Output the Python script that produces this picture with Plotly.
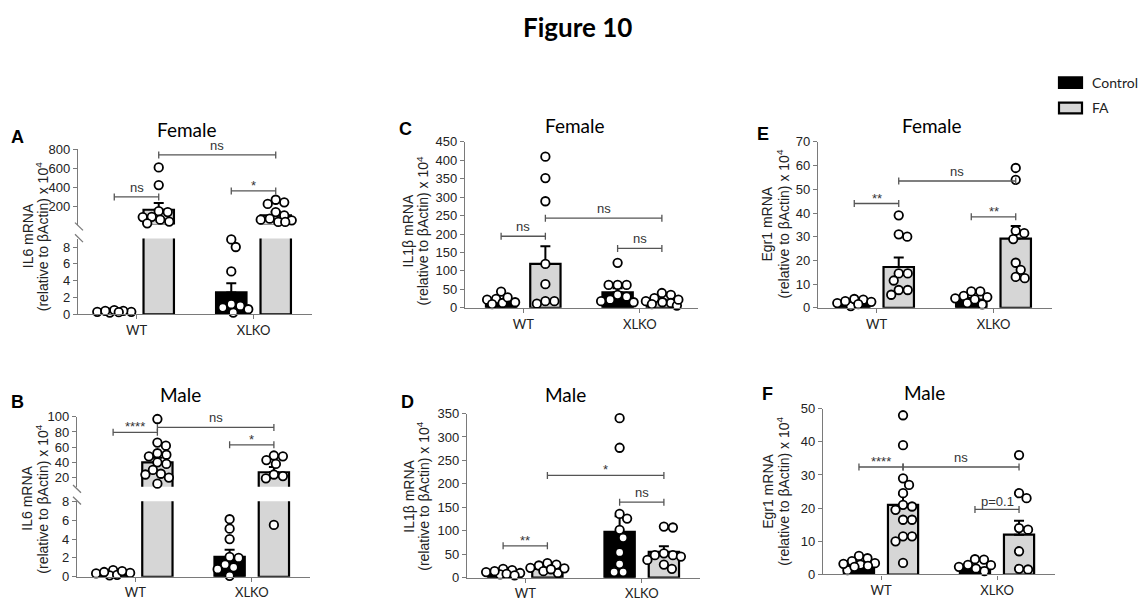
import plotly.graph_objects as go

W, H = 1145, 614

# ---------------- data ----------------
GROUPS = ["WT", "XLKO"]
CONDITIONS = ["Control", "FA"]

# A: IL6, Female
A_control_mean = [0.3, 2.6]
A_control_sem = [0.05, 1.1]
A_fa_mean = [165, 105]
A_fa_sem = [70, 40]
A_control_wt = [0.3, 0.4, 0.2, 0.5, 0.3, 0.4, 0.25]
A_fa_wt = [610, 425, 150, 140, 90, 88, 40, 22, 60]
A_control_xlko = [8.0, 8.9, 5.1, 1.0, 0.8, 0.2, 0.6, 1.2]
A_fa_xlko = [243, 270, 226, 140, 105, 71, 54, 37, 37, 60]

# B: IL6, Male
B_control_mean = [0.3, 2.1]
B_control_sem = [0.08, 0.75]
B_fa_mean = [40, 27]
B_fa_sem = [6, 7]
B_control_wt = [0.7, 0.35, 0.15, 0.5, 0.4, 0.2, 0.6]
B_fa_wt = [97, 66, 62, 52, 50, 48, 40, 38, 30, 25, 24, 20, 12]
B_control_xlko = [6.1, 5.1, 4.0, 2.1, 2.0, 1.0, 1.3, 0.1, 0.8]
B_fa_xlko = [5.5, 48, 49, 38, 43, 22, 19, 24]

# C: IL1b, Female
C_control_mean = [20, 42]
C_control_sem = [4, 11]
C_fa_mean = [119, 18]
C_fa_sem = [48, 4]
C_control_wt = [24, 13, 44, 22, 15, 28, 10]
C_fa_wt = [410, 352, 289, 119, 64, 18, 18, 11]
C_control_xlko = [122, 62, 62, 62, 35, 18, 15, 22, 30]
C_fa_xlko = [35, 40, 26, 13, 6, 18, 22, 15, 10]

# D: IL1b, Male
D_control_mean = [10, 98]
D_control_sem = [2, 33]
D_fa_mean = [19, 55]
D_fa_sem = [3, 12]
D_control_wt = [19, 12, 16, 7, 10, 8, 14, 5]
D_fa_wt = [31, 28, 26, 21, 10, 14, 20, 18]
D_control_xlko = [340, 277, 136, 126, 102, 85, 54, 29, 12, 12]
D_fa_xlko = [107, 109, 48, 52, 48, 38, 28, 19, 45]

# E: Egr1, Female
E_control_mean = [2.1, 3.4]
E_control_sem = [0.4, 0.7]
E_fa_mean = [17.2, 29.2]
E_fa_sem = [4, 5.3]
E_control_wt = [3.4, 0.7, 3.7, 2.0, 2.5, 1.5, 2.8]
E_fa_wt = [39, 30, 31, 14.5, 14.5, 11.5, 7.5, 7.5, 5.5]
E_control_xlko = [5, 6.9, 6.9, 4.5, 2, 1.4, 3.5, 4]
E_fa_xlko = [59, 54, 31.5, 32.5, 29, 19, 16, 12.5, 13]

# F: Egr1, Male
F_control_mean = [2.9, 2.0]
F_control_sem = [0.5, 0.5]
F_fa_mean = [21, 12]
F_fa_sem = [3.2, 4.2]
F_control_wt = [4.9, 5.6, 3.4, 3.0, 1.3, 2.6, 4.0, 2.3, 3.2]
F_fa_wt = [48, 39, 29, 27, 24.5, 20.5, 21, 19.5, 16.5, 16.5, 11.5, 11.5, 10, 3.5]
F_control_xlko = [4.5, 4.6, 2.8, 2.9, 1.0, 1.8, 2.3]
F_fa_xlko = [36, 24.5, 23, 13.5, 14, 7, 1.5, 1.7]

# significance brackets: (label, (group, cond) from, (group, cond) to, y level)
A_sig = [("ns", (0, "Control"), (0, "FA"), 300), ("ns", (0, "FA"), (1, "FA"), 742), ("*", (1, "Control"), (1, "FA"), 363)]
B_sig = [("****", (0, "Control"), (0, "FA"), 79.5), ("ns", (0, "FA"), (1, "FA"), 86), ("*", (1, "Control"), (1, "FA"), 63)]
C_sig = [("ns", (0, "Control"), (0, "FA"), 194), ("ns", (0, "FA"), (1, "FA"), 243), ("ns", (1, "Control"), (1, "FA"), 161)]
D_sig = [("**", (0, "Control"), (0, "FA"), 68), ("*", (0, "FA"), (1, "FA"), 218), ("ns", (1, "Control"), (1, "FA"), 161)]
E_sig = [("**", (0, "Control"), (0, "FA"), 44), ("ns", (0, "FA"), (1, "FA"), 53.5), ("**", (1, "Control"), (1, "FA"), 38.4)]
F_sig = [("****", (0, "Control"), (0, "FA"), 32.4), ("ns", (0, "FA"), (1, "FA"), 32.4), ("p=0.1", (1, "Control"), (1, "FA"), 19.6)]

YTITLE_2 = "(relative to βActin) x 10<sup>4</sup>"

# ---------------- layout / style ----------------
OFFSET = {"Control": -0.19, "FA": 0.19}
BAR_W = 0.26
FILL = {"Control": "black", "FA": "#d6d6d6"}
AXIS_COLOR = "#7a7a7a"
TEXT_COLOR = "#222222"
ARIAL = "Liberation Sans, Arial, sans-serif"
CAL = "Lato, Carlito, sans-serif"


def fx(p):
    return p / W


def fy(p):
    return 1 - p / H


panels = [
    dict(letter="A", letter_xy=(17, 133), title="Female", title_xy=(187, 126),
         ytitle="IL6 mRNA", ytitle_x=(28, 42), ytitle_y=235,
         xdom=(78, 312),
         segs=[dict(dom=(237.4, 315), rng=(0, 9), ticks=[0, 2, 4, 6, 8]),
               dict(dom=(146, 223), rng=(9, 800), ticks=[200, 400, 600, 800])],
         breaks=[(79, 225), (79, 237)],
         cm=A_control_mean, cs=A_control_sem, fm=A_fa_mean, fs=A_fa_sem,
         pts={(0, "Control"): A_control_wt, (0, "FA"): A_fa_wt, (1, "Control"): A_control_xlko, (1, "FA"): A_fa_xlko},
         sig=A_sig),
    dict(letter="B", letter_xy=(17, 405), title="Male", title_xy=(180, 397),
         ytitle="IL6 mRNA", ytitle_x=(27, 42), ytitle_y=504,
         xdom=(77, 310),
         segs=[dict(dom=(506.7, 584), rng=(0, 8), ticks=[0, 2, 4, 6, 8]),
               dict(dom=(420, 491.7), rng=(8, 100), ticks=[20, 40, 60, 80, 100])],
         breaks=[(77, 494), (77, 506)],
         cm=B_control_mean, cs=B_control_sem, fm=B_fa_mean, fs=B_fa_sem,
         pts={(0, "Control"): B_control_wt, (0, "FA"): B_fa_wt, (1, "Control"): B_control_xlko, (1, "FA"): B_fa_xlko},
         sig=B_sig),
    dict(letter="C", letter_xy=(405, 125), title="Female", title_xy=(575, 121),
         ytitle="IL1β mRNA", ytitle_x=(408, 423), ytitle_y=230,
         xdom=(465, 698),
         segs=[dict(dom=(138.3, 308.3), rng=(0, 450), ticks=list(range(0, 451, 50)))],
         breaks=[],
         cm=C_control_mean, cs=C_control_sem, fm=C_fa_mean, fs=C_fa_sem,
         pts={(0, "Control"): C_control_wt, (0, "FA"): C_fa_wt, (1, "Control"): C_control_xlko, (1, "FA"): C_fa_xlko},
         sig=C_sig),
    dict(letter="D", letter_xy=(407, 405), title="Male", title_xy=(565, 397),
         ytitle="IL1β mRNA", ytitle_x=(409, 423), ytitle_y=502,
         xdom=(467, 700),
         segs=[dict(dom=(416.7, 585), rng=(0, 350), ticks=list(range(0, 351, 50)))],
         breaks=[],
         cm=D_control_mean, cs=D_control_sem, fm=D_fa_mean, fs=D_fa_sem,
         pts={(0, "Control"): D_control_wt, (0, "FA"): D_fa_wt, (1, "Control"): D_control_xlko, (1, "FA"): D_fa_xlko},
         sig=D_sig),
    dict(letter="E", letter_xy=(763, 130), title="Female", title_xy=(932, 121),
         ytitle="Egr1 mRNA", ytitle_x=(767, 783), ytitle_y=223,
         xdom=(818, 1052),
         segs=[dict(dom=(138.3, 308.3), rng=(0, 70), ticks=list(range(0, 71, 10)))],
         breaks=[],
         cm=E_control_mean, cs=E_control_sem, fm=E_fa_mean, fs=E_fa_sem,
         pts={(0, "Control"): E_control_wt, (0, "FA"): E_fa_wt, (1, "Control"): E_control_xlko, (1, "FA"): E_fa_xlko},
         sig=E_sig),
    dict(letter="F", letter_xy=(767, 397), title="Male", title_xy=(924, 395),
         ytitle="Egr1 mRNA", ytitle_x=(768, 783), ytitle_y=497,
         xdom=(823, 1055),
         segs=[dict(dom=(411.7, 581.7), rng=(0, 50), ticks=list(range(0, 51, 10)))],
         breaks=[],
         cm=F_control_mean, cs=F_control_sem, fm=F_fa_mean, fs=F_fa_sem,
         pts={(0, "Control"): F_control_wt, (0, "FA"): F_fa_wt, (1, "Control"): F_control_xlko, (1, "FA"): F_fa_xlko},
         sig=F_sig),
]


def seg_for(value, segs):
    for i, s in enumerate(segs):
        if value <= s["rng"][1]:
            return i
    return len(segs) - 1


def val_to_px(value, seg):
    top, bot = seg["dom"]
    r0, r1 = seg["rng"]
    return bot - (value - r0) / (r1 - r0) * (bot - top)


def swarm(ys, diam=8.8, maxoff=17.0, step=0.5):
    order = sorted(range(len(ys)), key=lambda i: ys[i])
    placed = []
    offs = [0.0] * len(ys)
    nsteps = int(maxoff / step)
    for i in order:
        cands = [0.0]
        for k in range(1, nsteps + 1):
            cands += [k * step, -k * step]
        best = None
        bestscore = None
        for c in cands:
            worst = 0.0
            for ox, oy in placed:
                d2 = (c - ox) ** 2 + (ys[i] - oy) ** 2
                if d2 < diam ** 2:
                    worst = max(worst, diam - d2 ** 0.5)
            if worst == 0.0:
                best = c
                break
            if bestscore is None or worst < bestscore:
                bestscore = worst
                best = c
        offs[i] = best
        placed.append((best, ys[i]))
    return offs


fig = go.Figure()
layout = {}
shapes = []
annotations = []

yi = 0
for pi, P in enumerate(panels):
    xid = pi + 1
    xname = "x" if xid == 1 else f"x{xid}"
    xkey = "xaxis" if xid == 1 else f"xaxis{xid}"
    x0, x1 = P["xdom"]
    px_per_unit = (x1 - x0) / 2.0
    seg_names = []
    for si, S in enumerate(P["segs"]):
        yi += 1
        yname = "y" if yi == 1 else f"y{yi}"
        ykey = "yaxis" if yi == 1 else f"yaxis{yi}"
        seg_names.append(yname)
        layout[ykey] = dict(
            domain=[fy(S["dom"][1]), fy(S["dom"][0])], range=list(S["rng"]), anchor=xname,
            tickmode="array", tickvals=S["ticks"], ticks="outside", ticklen=4, tickwidth=1.2,
            tickcolor=AXIS_COLOR, showline=True, linecolor=AXIS_COLOR, linewidth=1.3,
            showgrid=False, zeroline=False, fixedrange=True,
            tickfont=dict(family=ARIAL, size=13, color=TEXT_COLOR),
        )
        # bars + SEM (only the bars that reach into this axis segment)
        for cond, means, sems in (("Control", P["cm"], P["cs"]), ("FA", P["fm"], P["fs"])):
            keep = [g for g in range(len(GROUPS)) if means[g] > S["rng"][0]]
            if not keep:
                continue
            fig.add_trace(go.Bar(
                x=[g + OFFSET[cond] for g in keep], y=[means[g] for g in keep], width=BAR_W,
                marker=dict(color=FILL[cond], line=dict(color="black", width=2.2)),
                error_y=dict(type="data", symmetric=False, array=[sems[g] for g in keep],
                             arrayminus=[0] * len(keep), color="black", thickness=2, width=5),
                xaxis=xname, yaxis=yname, showlegend=False, hoverinfo="skip", name=cond,
            ))
    layout[xkey] = dict(
        domain=[fx(x0), fx(x1)], range=[-0.5, 1.5], anchor=seg_names[0],
        tickmode="array", tickvals=list(range(len(GROUPS))), ticktext=GROUPS,
        ticks="outside", ticklen=4, tickwidth=1.2, tickcolor=AXIS_COLOR,
        showline=True, linecolor=AXIS_COLOR, linewidth=1.3, showgrid=False, zeroline=False,
        fixedrange=True, tickfont=dict(family=CAL, size=13, color=TEXT_COLOR),
    )
    # points (beeswarm within each bar)
    for (g, cond), vals in P["pts"].items():
        segidx = [seg_for(v, P["segs"]) for v in vals]
        ypx = [val_to_px(v, P["segs"][s]) for v, s in zip(vals, segidx)]
        offs = swarm(ypx)
        for si in range(len(P["segs"])):
            xs = [g + OFFSET[cond] + o / px_per_unit for o, s in zip(offs, segidx) if s == si]
            ys = [v for v, s in zip(vals, segidx) if s == si]
            if not ys:
                continue
            fig.add_trace(go.Scatter(
                x=xs, y=ys, mode="markers", cliponaxis=False,
                marker=dict(symbol="circle", size=8.5, color="white", line=dict(color="black", width=1.8)),
                xaxis=xname, yaxis=seg_names[si], showlegend=False, hoverinfo="skip",
            ))
    # significance brackets
    for label, (ga, ca), (gb, cb), level in P["sig"]:
        si = seg_for(level, P["segs"])
        yname = seg_names[si]
        xa = ga + OFFSET[ca]
        xb = gb + OFFSET[cb]
        shapes.append(dict(type="line", xref=xname, yref=yname, x0=xa, x1=xb, y0=level, y1=level,
                           line=dict(color="#555555", width=1.3)))
        for xe in (xa, xb):
            shapes.append(dict(type="line", xref=xname, yref=yname, x0=xe, x1=xe,
                               ysizemode="pixel", yanchor=level, y0=-3.5, y1=3.5,
                               line=dict(color="#555555", width=1.3)))
        star = label.startswith("*")
        annotations.append(dict(
            x=(xa + xb) / 2, y=level, xref=xname, yref=yname, text=label, showarrow=False,
            xanchor="center", yanchor="bottom", yshift=(-4 if star else (-2 if label.startswith("p") else 0)),
            font=dict(family=ARIAL, size=13, color="#333333"),
        ))
    # broken-axis marks
    for bx, by in P["breaks"]:
        shapes.append(dict(type="line", xref="paper", yref="paper",
                           x0=fx(bx - 4), x1=fx(bx + 4), y0=fy(by - 4), y1=fy(by + 4),
                           line=dict(color=AXIS_COLOR, width=1.3)))
    # panel letter, title, y-axis title (two lines)
    lx, ly = P["letter_xy"]
    annotations.append(dict(x=fx(lx), y=fy(ly), xref="paper", yref="paper", text=f"<b>{P['letter']}</b>",
                            showarrow=False, xanchor="center", yanchor="middle",
                            font=dict(family=ARIAL, size=18, color="black")))
    tx, ty = P["title_xy"]
    annotations.append(dict(x=fx(tx), y=fy(ty), xref="paper", yref="paper", text=P["title"],
                            showarrow=False, xanchor="center", yanchor="middle",
                            font=dict(family=CAL, size=19, color="black")))
    for line_text, lxp in zip((P["ytitle"], YTITLE_2), P["ytitle_x"]):
        annotations.append(dict(x=fx(lxp), y=fy(P["ytitle_y"]), xref="paper", yref="paper", text=line_text,
                                showarrow=False, xanchor="center", yanchor="middle", textangle=-90,
                                font=dict(family=ARIAL, size=14, color=TEXT_COLOR)))

# figure title
annotations.append(dict(x=fx(577), y=fy(21), xref="paper", yref="paper", text="<b>Figure 10</b>",
                        showarrow=False, xanchor="center", yanchor="middle",
                        font=dict(family=CAL, size=26, color="black")))

# legend (Control / FA)
for cond, (ry0, ry1) in zip(CONDITIONS, [(72, 83), (98, 109)]):
    shapes.append(dict(type="rect", xref="paper", yref="paper",
                       x0=fx(1059), x1=fx(1082), y0=fy(ry1), y1=fy(ry0),
                       fillcolor=FILL[cond], line=dict(color="black", width=2.2)))
    annotations.append(dict(x=fx(1090), y=fy((ry0 + ry1) / 2), xref="paper", yref="paper", text=cond,
                            showarrow=False, xanchor="left", yanchor="middle",
                            font=dict(family=CAL, size=14, color=TEXT_COLOR)))

fig.update_layout(
    width=W, height=H, margin=dict(l=0, r=0, t=0, b=0),
    paper_bgcolor="white", plot_bgcolor="white",
    barmode="overlay", showlegend=False,
    shapes=shapes, annotations=annotations, **layout,
)

fig.write_html("out.html", config={"displayModeBar": False})
